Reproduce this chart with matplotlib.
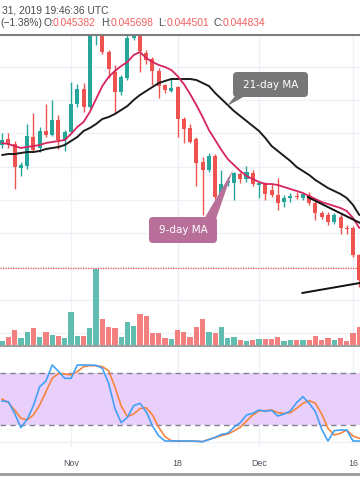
import matplotlib
matplotlib.use("Agg")
import matplotlib.pyplot as plt
import matplotlib.dates as mdates
from matplotlib.patches import FancyBboxPatch, Polygon
import pandas as pd

# ---------------- data ----------------
dates = pd.date_range("2019-10-21", "2019-12-17", freq="D")

open_ = [0.04865, 0.04883, 0.04868, 0.04796, 0.04802, 0.04889, 0.04856, 0.04907, 0.04895, 0.04940,
         0.04880, 0.04904, 0.04988, 0.05033, 0.04979, 0.05234, 0.05240, 0.05144, 0.05084, 0.05024,
         0.05066, 0.05186, 0.05192, 0.05141, 0.05123, 0.05087, 0.05045, 0.05027, 0.05039, 0.04943,
         0.04916, 0.04883, 0.04814, 0.04790, 0.04832, 0.04712, 0.04751, 0.04751, 0.04778, 0.04763,
         0.04781, 0.04745, 0.04748, 0.04730, 0.04715, 0.04694, 0.04705, 0.04712, 0.04706, 0.04715,
         0.04691, 0.04661, 0.04655, 0.04634, 0.04649, 0.04616, 0.04616, 0.04535]
high = [0.04901, 0.04901, 0.04877, 0.04814, 0.04928, 0.04961, 0.04919, 0.04988, 0.05000, 0.04955,
        0.04910, 0.05054, 0.05048, 0.05051, 0.05255, 0.05291, 0.05264, 0.05150, 0.05105, 0.05075,
        0.05195, 0.05204, 0.05204, 0.05150, 0.05129, 0.05096, 0.05048, 0.05063, 0.05042, 0.04949,
        0.04928, 0.04889, 0.04829, 0.04841, 0.04838, 0.04790, 0.04769, 0.04784, 0.04784, 0.04802,
        0.04790, 0.04754, 0.04754, 0.04748, 0.04766, 0.04715, 0.04721, 0.04724, 0.04724, 0.04724,
        0.04697, 0.04667, 0.04664, 0.04661, 0.04658, 0.04625, 0.04622, 0.04538]
low = [0.04856, 0.04856, 0.04733, 0.04772, 0.04793, 0.04844, 0.04844, 0.04889, 0.04892, 0.04853,
       0.04847, 0.04901, 0.04979, 0.04964, 0.04976, 0.05165, 0.05138, 0.05066, 0.04961, 0.05015,
       0.05060, 0.05180, 0.05084, 0.05108, 0.05045, 0.05006, 0.05021, 0.05024, 0.04889, 0.04871,
       0.04871, 0.04742, 0.04655, 0.04784, 0.04703, 0.04700, 0.04742, 0.04700, 0.04751, 0.04754,
       0.04742, 0.04706, 0.04700, 0.04709, 0.04670, 0.04679, 0.04694, 0.04703, 0.04700, 0.04685,
       0.04640, 0.04643, 0.04625, 0.04628, 0.04598, 0.04598, 0.04529, 0.04439]
close = [0.04880, 0.04868, 0.04799, 0.04805, 0.04892, 0.04850, 0.04907, 0.04895, 0.04940, 0.04880,
         0.04904, 0.04988, 0.05033, 0.04979, 0.05240, 0.05276, 0.05144, 0.05093, 0.05024, 0.05069,
         0.05186, 0.05192, 0.05147, 0.05120, 0.05087, 0.05042, 0.05030, 0.05036, 0.04943, 0.04913,
         0.04874, 0.04811, 0.04790, 0.04832, 0.04709, 0.04748, 0.04757, 0.04781, 0.04763, 0.04784,
         0.04748, 0.04751, 0.04718, 0.04715, 0.04691, 0.04706, 0.04712, 0.04709, 0.04718, 0.04691,
         0.04661, 0.04649, 0.04634, 0.04655, 0.04616, 0.04613, 0.04535, 0.04460]
volume = [430, 800, 1500, 730, 1300, 1700, 830, 1300, 1000, 930,
          730, 3300, 930, 930, 1700, 7600, 2630, 1830, 1700, 800,
          2330, 1900, 3130, 2900, 1200, 1200, 700, 570, 1500, 1330,
          800, 1800, 2570, 1330, 1170, 1800, 670, 830, 500, 430,
          500, 600, 600, 600, 830, 430, 500, 500, 500, 500,
          930, 500, 670, 500, 670, 400, 1170, 1830]
ma9 = [0.04871, 0.04868, 0.04862, 0.04856, 0.04859, 0.04862, 0.04865, 0.04871, 0.04874, 0.04877,
       0.04880, 0.04898, 0.04919, 0.04934, 0.04964, 0.05003, 0.05042, 0.05069, 0.05087, 0.05102,
       0.05114, 0.05135, 0.05144, 0.05126, 0.05114, 0.05105, 0.05099, 0.05090, 0.05072, 0.05048,
       0.05018, 0.04985, 0.04949, 0.04910, 0.04880, 0.04850, 0.04823, 0.04805, 0.04787, 0.04772,
       0.04763, 0.04754, 0.04748, 0.04748, 0.04745, 0.04739, 0.04733, 0.04727, 0.04721, 0.04712,
       0.04703, 0.04694, 0.04688, 0.04682, 0.04676, 0.04667, 0.04646, 0.04616]
ma21 = [0.04835, 0.04838, 0.04838, 0.04841, 0.04844, 0.04844, 0.04847, 0.04853, 0.04856, 0.04859,
        0.04865, 0.04877, 0.04889, 0.04907, 0.04916, 0.04928, 0.04943, 0.04949, 0.04958, 0.04970,
        0.04982, 0.05000, 0.05015, 0.05027, 0.05039, 0.05051, 0.05057, 0.05063, 0.05063, 0.05063,
        0.05063, 0.05060, 0.05051, 0.05042, 0.05021, 0.05003, 0.04985, 0.04967, 0.04952, 0.04937,
        0.04922, 0.04907, 0.04886, 0.04862, 0.04847, 0.04832, 0.04817, 0.04799, 0.04787, 0.04775,
        0.04760, 0.04748, 0.04736, 0.04727, 0.04718, 0.04706, 0.04685, 0.04655]
stoch_k = [47.3, 46.5, 33.1, 16.5, 26.1, 41.9, 63.8, 70.3, 88.8, 81.5,
           73.4, 73.4, 88.8, 88.8, 88.8, 88.4, 85.0, 67.7, 38.8, 22.3,
           28.4, 41.9, 44.6, 35.0, 18.4, 6.9, 1.1, 1.1, 1.1, 1.1,
           1.1, 0.8, 0.4, 2.7, 5.4, 8.8, 10.0, 16.9, 22.3, 31.1,
           33.1, 36.9, 35.4, 36.5, 30.0, 32.3, 35.8, 45.4, 52.3, 44.6,
           35.0, 14.6, 1.1, 13.1, 13.8, 13.8, 1.1, 1.1]
stoch_d = [49.6, 45.4, 36.9, 27.3, 25.4, 31.1, 42.7, 58.0, 73.4, 79.2,
           78.4, 77.3, 81.1, 86.9, 88.0, 88.0, 86.9, 82.3, 63.8, 41.5,
           29.2, 32.3, 38.5, 39.6, 31.1, 16.9, 6.1, 1.5, 1.1, 1.1,
           1.1, 0.8, 0.4, 3.1, 5.0, 7.3, 9.2, 12.7, 16.9, 24.2,
           31.1, 35.8, 36.2, 36.9, 33.8, 33.1, 33.8, 38.8, 44.6, 47.7,
           44.6, 32.3, 15.8, 8.1, 10.0, 13.8, 6.9, 4.2]

tick_dates = ["2019-11-01", "2019-11-18", "2019-12-01", "2019-12-16"]
tick_labels = ["Nov", "18", "Dec", "16"]
price_grid = [0.043, 0.044, 0.045, 0.046, 0.047, 0.048, 0.049, 0.050, 0.051, 0.052]
stoch_grid = [0, 40]
stoch_band = (20, 80)
last_price = 0.04496
trend_a = (("2019-12-08 18:00", 0.04709), ("2019-12-18 00:00", 0.04623))
trend_b = (("2019-12-07 21:00", 0.04421), ("2019-12-18 00:00", 0.04454))

header_date = "31, 2019 19:46:36 UTC"
header_change = "(\u22121.38%)"
ohlc_labels = ["O:", "H:", "L:", "C:"]
ohlc_values = ["0.045382", "0.045698", "0.044501", "0.044834"]

# ---------------- style ----------------
UP, DN = "#26a69a", "#ef5350"
VUP, VDN = "#60bdb0", "#f3807e"
GRID = "#edf1f5"
TXT = "#4a4a4a"
FONT = ["Liberation Sans", "DejaVu Sans"]

W, H = 360, 504
fig = plt.figure(figsize=(W / 100, H / 100), dpi=100)
fig.patch.set_facecolor("white")


def rect(top, bottom):
    return [0, 1 - bottom / H, 1, (bottom - top) / H]


x = mdates.date2num(dates)
xlim = (x[0] - 0.33, x[0] + 57.11)
price_lim = (0.04265, 0.05195)

axg = fig.add_axes(rect(35, 345))
axv = fig.add_axes(rect(35, 345))
ax = fig.add_axes(rect(35, 345))
for a in (axg, axv, ax):
    a.set_xlim(*xlim)
    a.axis("off")
    a.patch.set_visible(False)
axg.set_ylim(*price_lim)
ax.set_ylim(*price_lim)

# grid
for p in price_grid:
    axg.axhline(p, color=GRID, lw=1.0)
for d in tick_dates:
    axg.axvline(mdates.datestr2num(d), color=GRID, lw=1.0)

# volume
vcols = [VUP if c >= o else VDN for o, c in zip(open_, close)]
axv.bar(x, volume, width=0.84, color=vcols, linewidth=0)
axv.set_ylim(0, max(volume) * 310 / 76)

# candles
for xi, o, h, l, c in zip(x, open_, high, low, close):
    col = UP if c >= o else DN
    ax.vlines(xi, l, h, color=col, lw=1.0, zorder=2)
    bh = max(abs(c - o), 0.00003)
    ax.bar(xi, bh, bottom=min(o, c), width=0.64, color=col, linewidth=0, zorder=3)

# moving averages
ax.plot(x, ma21, color="#1c1c1c", lw=1.4, zorder=4, solid_capstyle="round")
ax.plot(x, ma9, color="#d6245e", lw=1.3, zorder=5, solid_capstyle="round")

# last price line
ax.axhline(last_price, color=DN, lw=0.9, ls=(0, (1, 1)), zorder=1)

# trend lines
for (d0, p0), (d1, p1) in (trend_a, trend_b):
    ax.plot([mdates.datestr2num(d0), mdates.datestr2num(d1)], [p0, p1],
            color="#111111", lw=1.4, zorder=6, solid_capstyle="round")

# ---------------- stochastic RSI pane ----------------
ast = fig.add_axes(rect(347, 447))
ast.set_xlim(*xlim)
ast.set_ylim(-5.8, 109.6)
ast.axis("off")
for d in tick_dates:
    ast.axvline(mdates.datestr2num(d), color=GRID, lw=1.0, zorder=0)
for g in stoch_grid:
    ast.axhline(g, color=GRID, lw=1.0, zorder=0)
ast.axhspan(stoch_band[0], stoch_band[1], color="#e9d0fc", lw=0, zorder=1)
for lv in stoch_band:
    ast.axhline(lv, color="#80828c", lw=1.0, ls=(0, (4, 3)), zorder=2)
ast.plot(x, stoch_d, color="#f7843d", lw=1.2, zorder=3)
ast.plot(x, stoch_k, color="#42a0f5", lw=1.2, zorder=4)

tr = ast.get_xaxis_transform()
for d, lab in zip(tick_dates, tick_labels):
    ast.text(mdates.datestr2num(d), -0.17, lab, transform=tr, ha="center", va="center",
             fontsize=6.4, color="#50535e", family=FONT)

# ---------------- overlay (header, separators, callouts) ----------------
ov = fig.add_axes([0, 0, 1, 1])
ov.set_xlim(0, W)
ov.set_ylim(H, 0)
ov.axis("off")
ov.patch.set_visible(False)

ov.plot([0, W], [35, 35], color="#7d7d7d", lw=1.5)
ov.plot([0, W], [345.8, 345.8], color="#8c8c8c", lw=1.2)
ov.plot([0, W], [473.5, 473.5], color="#9a9a9a", lw=2.0)

ov.text(2, 10.5, header_date, fontsize=7.4, color=TXT, va="center", ha="left", family=FONT)
ov.text(0, 23.5, header_change, fontsize=7.4, color=TXT, va="center", ha="left", family=FONT)
lab_x = [43, 101, 158, 213]
val_x = [53, 111, 167, 223]
for lx, vx, lab, val in zip(lab_x, val_x, ohlc_labels, ohlc_values):
    ov.text(lx, 23.5, lab, fontsize=7.4, color=TXT, va="center", ha="left", family=FONT)
    ov.text(vx, 23.5, val, fontsize=7.4, color="#f0605d", va="center", ha="left", family=FONT)

# 21-day MA callout
g21 = "#777777"
ov.add_patch(Polygon([(236, 95), (247, 95), (227, 106)], closed=True, fc=g21, ec="none"))
ov.add_patch(FancyBboxPatch((233, 72), 75, 25, boxstyle="round,pad=0,rounding_size=4",
                            fc=g21, ec="none"))
ov.text(270.5, 84.8, "21-day MA", color="white", fontsize=7.5, ha="center", va="center",
        family="DejaVu Sans")

# 9-day MA callout
g9 = "#b8709a"
ov.add_patch(Polygon([(204, 219), (216, 219), (233, 170)], closed=True, fc=g9, ec="none"))
ov.add_patch(FancyBboxPatch((149, 217), 68, 26, boxstyle="round,pad=0,rounding_size=4",
                            fc=g9, ec="none"))
ov.text(183, 230.3, "9-day MA", color="white", fontsize=7.5, ha="center", va="center",
        family="DejaVu Sans")

fig.savefig("out.png", dpi=100, facecolor="white")
